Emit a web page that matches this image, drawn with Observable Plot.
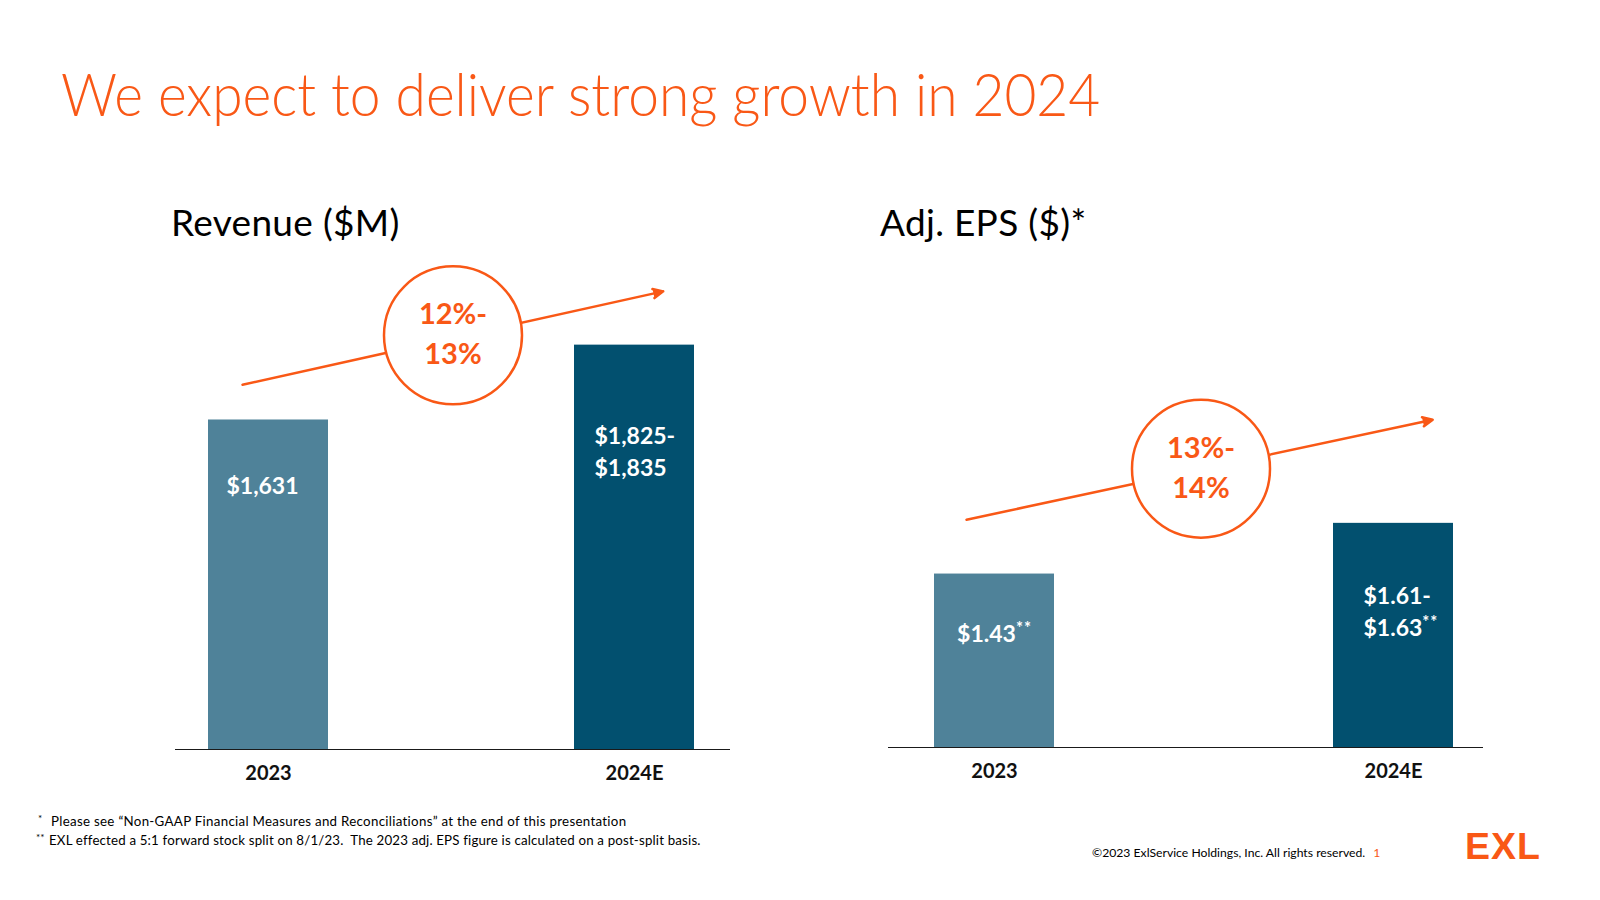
<!DOCTYPE html>
<html>
<head>
<meta charset="utf-8">
<script src="https://cdn.jsdelivr.net/npm/d3@7"></script>
<script src="https://cdn.jsdelivr.net/npm/@observablehq/plot@0.6"></script>
<style>
  body { margin: 0; background: #fff; }
  #page { position: relative; width: 1600px; height: 900px; overflow: hidden; font-family: Lato, "Open Sans", sans-serif; color: #000; }
  .abs { position: absolute; white-space: nowrap; line-height: 1; }
  #title { left: 61px; top: 63px; font-size: 60px; font-weight: 300; color: #F95816; transform: scaleX(0.918); transform-origin: 0 0; }
  .sect { font-size: 37px; font-weight: 400; top: 203px; }
  #revTitle { left: 171px; letter-spacing: 0.3px; }
  #epsTitle { left: 880px; letter-spacing: 0.3px; }
  .foot { font-size: 13.3px; left: 36px; letter-spacing: 0.3px; }
  .foot sup { font-size: 10px; vertical-align: 4px; display: inline-block; width: 14px; letter-spacing: 0; }
  #foot1 { top: 813px; }
  #foot1 sup { padding-left: 2px; width: 13px; }
  #foot2 { top: 832px; letter-spacing: 0.17px; }
  #foot2 sup { width: 13px; }
  #copy { left: 1092px; top: 847px; font-size: 12.2px; }
  #copy span { color: #F95816; margin-left: 8px; }
  #logo { left: 1465px; top: 828px; font-family: "Liberation Sans", Arial, sans-serif; font-weight: 700; font-size: 37.5px; letter-spacing: 1px; color: #F95816; }
  #rev { position: absolute; left: 150px; top: 250px; }
  #eps { position: absolute; left: 870px; top: 250px; }
</style>
</head>
<body>
<div id="page">
  <div id="title" class="abs">We expect to deliver strong growth in 2024</div>
  <div id="revTitle" class="abs sect">Revenue ($M)</div>
  <div id="epsTitle" class="abs sect">Adj. EPS ($)*</div>
  <div id="rev"></div>
  <div id="eps"></div>
  <div id="foot1" class="abs foot"><sup>*</sup>Please see “Non-GAAP Financial Measures and Reconciliations” at the end of this presentation</div>
  <div id="foot2" class="abs foot"><sup>**</sup>EXL effected a 5:1 forward stock split on 8/1/23.&nbsp; The 2023 adj. EPS figure is calculated on a post-split basis.</div>
  <div id="copy" class="abs">©2023 ExlService Holdings, Inc. All rights reserved.<span>1</span></div>
  <div id="logo" class="abs">EXL</div>
</div>
<script>
// ---- data ----
const revYears = ["2023", "2024E"];
const revValues = [1631, 1830];
const revLabels = ["$1,631", "$1,825-\n$1,835"];
const revGrowth = ["12%-\n13%"];

const epsYears = ["2023", "2024E"];
const epsValues = [1.43, 1.62];
const epsLabels = ["$1.43**", "$1.61-\n$1.63**"];
const epsGrowth = ["13%-\n14%"];

const barColors = ["#4F8299", "#02506F"];
const orange = "#F95816";

// growth callout anchors, in data units of each panel
const revTrend = [[1740, 1956]];
const revCircle = [1856];
const epsTrend = [[1.656, 1.977]];
const epsCircle = [1.825];

function panel(cfg) {
  const data = cfg.years.map((year, i) => ({year, value: cfg.values[i], label: cfg.labels[i]}));
  const chart = Plot.plot({
    width: cfg.width,
    height: cfg.height,
    marginLeft: cfg.ml, marginRight: cfg.mr, marginTop: cfg.mt, marginBottom: cfg.mb,
    style: {fontFamily: "Lato, 'Open Sans', sans-serif", fontSize: "20px", background: "none", overflow: "visible", color: "#111"},
    x: {type: "band", domain: cfg.years, paddingInner: cfg.pi, paddingOuter: cfg.po, align: cfg.align, axis: null},
    y: {domain: cfg.yDomain, axis: null},
    color: {domain: cfg.years, range: barColors},
    marks: [
      Plot.barY(data, {x: "year", y: "value", fill: "year", clip: true}),
      Plot.ruleY([cfg.yDomain[0]], {stroke: "#1a1a1a", strokeWidth: 1.2}),
      Plot.arrow(cfg.trend, {
        x1: () => cfg.years[0], x2: () => cfg.years[1],
        y1: d => d[0], y2: d => d[1],
        stroke: orange, fill: orange, strokeWidth: 2.5,
        headLength: 6.6, headAngle: 50,
        insetStart: cfg.insetStart, insetEnd: cfg.insetEnd
      }),
      Plot.dot(cfg.circle, {y: d => d, r: 69, fill: "white", stroke: orange, strokeWidth: 2.5, frameAnchor: "middle", dx: cfg.cdx}),
      Plot.text(cfg.growth, {y: () => cfg.circle[0], text: d => d, frameAnchor: "middle", dx: cfg.cdx, dy: cfg.gdy,
        lineAnchor: "middle", lineHeight: 1.38, fontSize: 29, fontWeight: 700, fill: orange}),
      Plot.text(data.slice(0, 1), {x: "year", y: "value", text: "label", fill: "white", fontSize: 23, fontWeight: 700,
        lineAnchor: "top", dy: cfg.dy0, dx: cfg.dx0}),
      Plot.text(data.slice(1, 2), {x: "year", y: "value", text: "label", fill: "white", fontSize: 23, fontWeight: 700,
        lineAnchor: "top", textAnchor: "start", lineHeight: 1.4, dy: cfg.dy1, dx: cfg.dx1}),
      Plot.axisX({tickSize: 0, tickPadding: cfg.tp, fontSize: 20, fontWeight: 700, fill: "#111", label: null})
    ]
  });
  // superscript the "**" markers
  d3.select(chart).selectAll("text, tspan").each(function() {
    if (this.childElementCount === 0 && this.textContent.endsWith("**")) {
      const t = this.textContent;
      this.textContent = t.slice(0, -2);
      d3.select(this).append("tspan").attr("font-size", "0.72em").attr("dy", "-0.5em").attr("letter-spacing", "1px").text("**");
    }
  });
  d3.select(chart).selectAll("g[aria-label='x-axis tick label'] text").attr("font-weight", 700);
  return chart;
}

document.getElementById("rev").append(panel({
  years: revYears, values: revValues, labels: revLabels, growth: revGrowth,
  trend: revTrend, circle: revCircle,
  width: 600, height: 550, ml: 25, mr: 20, mt: 10, mb: 51,
  yDomain: [755, 2055], pi: 0.672, po: 0.094, align: 0.48,
  insetStart: -26.6, insetEnd: -29.4, cdx: 0, gdy: -4, tp: 16,
  dy0: 58, dx0: -6, dy1: 76, dx1: -40
}));

document.getElementById("eps").append(panel({
  years: epsYears, values: epsValues, labels: epsLabels, growth: epsGrowth,
  trend: epsTrend, circle: epsCircle,
  width: 630, height: 550, ml: 18, mr: 17, mt: 10, mb: 53,
  yDomain: [0.78, 2.605], pi: 0.70, po: 0.095, align: 0.6,
  insetStart: -28.6, insetEnd: -40.1, cdx: 15, gdy: -3, tp: 16,
  dy0: 52, dx0: 0, dy1: 58, dx1: -30
}));
</script>
</body>
</html>
